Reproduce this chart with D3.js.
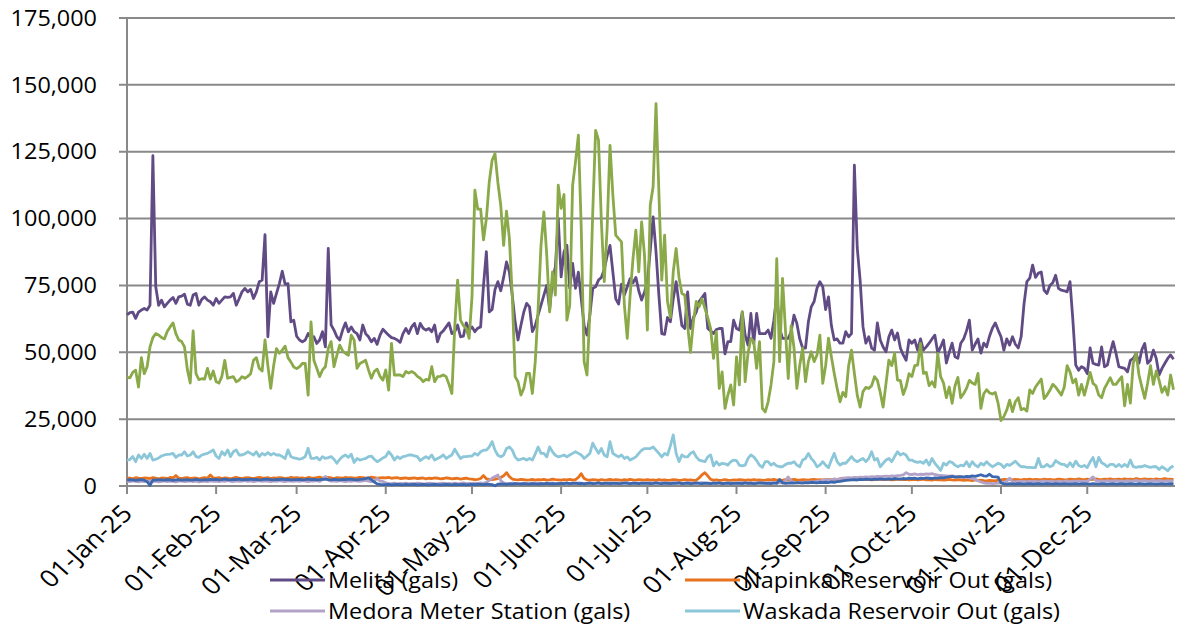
<!DOCTYPE html>
<html><head><meta charset="utf-8">
<script src="https://cdn.jsdelivr.net/npm/d3@7"></script>
<style>
html,body{margin:0;padding:0;background:#fff;}
svg{display:block;font-family:"Open Sans",Lato,sans-serif;}
</style></head><body>
<svg id="chart" width="1177" height="631"></svg>
<script>
// ---- DATA (thousands of gallons per day, 2025) ----
const yTicks = [0, 25, 50, 75, 100, 125, 150, 175];
const seriesNames = ["Melita (gals)", "Napinka Reservoir Out (gals)", "Medora Meter Station (gals)", "Waskada Reservoir Out (gals)", "Series 5", "Series 6"];

const melita = [
[64,64.8,65,62.7,65,65.8,66.4,65.8,67.6,123.5,74.5,67.6,69.5,67,68.3,69.5,70.5,68.3,70.7,71,71.7,68,67.6,71.4,72,67.6,69.8,70.7,69.5,68.9,67.6],
[70.1,68.3,69.5,70.7,70.5,70.7,72,67.6,70,72.6,73.9,72.6,73.5,70.1,72.6,76.4,77,94,55.8,72.6,68.3,72,75.7,80.3,75.5,75.7,61.4,62],
[56,54.6,53.9,54.6,57,55.2,55.8,53.3,54.6,57.7,52,88.8,60.2,58.3,55.8,54.6,58.3,61,57.7,59.5,57.7,57,54.6,60.2,57,55.8,53.9,55.2,53,56.4,58.6],
[57.5,56.4,55.5,55.2,54.6,53.7,57,58.9,57,59.5,60.8,57,60.8,59,58.3,58.9,57.7,60.2,53.9,57,58,59.5,61,57,57.7,60.2,55.8,56,61,58.3],
[59.5,57.7,59,59.5,75,87.6,65.1,66,73.5,76.4,73,78,83.8,80,71.4,61.4,54.6,60,65,68.3,67,57.7,60,64,67.6,71.4,75,66,77,82,100],
[78.2,87.6,90,74,83.2,73.9,80,70,60,56.4,64,73.9,74.5,77,78,81,86,90,80,70,68,75.5,71.4,74.5,77.5,76,78,73,69.5,72.6],
[76.4,88,100.6,87.6,71.4,57,56.7,63,61.4,70,76.4,68,60,58.9,72.6,58.9,63,65,69,70.5,72,58.9,58,57,58.5,58.9,58.9,49.4,54,54,62],
[58.9,58.3,65.1,56.4,52.7,64.5,53.3,64.5,57,57,57,58.3,55.2,62,71.4,58.9,55.2,55.2,55.2,57.7,63.9,60.8,55,51.6,51.6,61.4,67,69,74,76.4,74.5],
[66,70.7,60,54.6,55,53.4,53.4,57.7,55.8,57,120,89,77,59.5,53.4,55.8,51.6,50.8,61,54.6,52,50.2,55.8,58.3,54.6,57.2,51.6,49,47,54.6],
[53.4,54.6,50.8,55,50.8,52,53.4,55,56.4,49.7,52,54.6,46,50,53.4,48.3,47.8,53.4,55,58,62,50.8,53,55,49.7,53.4,52,56,59,61,58.3],
[55.8,50.8,55,52.7,55.8,53,51.6,55.8,68,76.4,77.7,82.6,78,79.6,80,73.2,72,75,76,78.8,73.9,73.2,73,72.6,76.4,62,45.2,43.3,44.6,44],
[42,51.6,45.9,45.5,45.2,52,44.6,45.2,50,54,49.6,44.6,44.3,44,42.7,47,47.7,49.6,45.9,51,53.3,45.9,47,50.8,47.7,41.5,44,45.9,47.7,49,47.4]
].flat();

const napinka = [
[2.8,3.0,2.7,3.1,2.9,2.8,3.0,2.9,2.8,3.1,2.9,2.7,3.0,2.9,2.8,3.2,3.0,3.9,2.9,2.8,3.0,3.1,2.8,2.9,3.0,2.7,2.9,3.1,2.9,4.1,3.0],
[2.9,3.1,2.8,3.0,2.9,2.7,3.0,3.2,2.9,2.8,3.0,3.1,2.9,2.8,3.0,3.2,3.0,2.9,3.1,2.8,3.0,2.9,3.1,3.0,2.8,2.9,3.2,3.0],
[3.1,2.9,3.0,2.8,3.2,3.0,2.9,3.1,3.3,3.0,2.9,3.2,3.0,2.8,3.1,3.0,2.9,3.2,3.0,3.1,2.9,3.0,3.2,3.1,2.9,3.0,3.3,3.1,2.9,3.0,3.1],
[3.0,3.2,2.9,3.0,3.1,2.8,2.9,3.0,2.8,2.9,3.0,2.8,2.9,3.0,2.7,2.9,2.8,3.0,2.9,2.7,2.8,3.0,2.9,2.7,2.8,2.9,2.6,2.8,2.9,2.7],
[2.6,2.4,2.5,2.8,3.9,2.7,2.5,2.4,2.6,2.8,3.2,3.8,5.0,3.5,2.6,2.4,2.3,2.5,2.4,2.2,2.3,2.5,2.2,2.4,2.3,2.5,2.2,2.3,2.6,2.4,2.3],
[2.2,2.4,2.3,2.5,2.2,2.4,3.2,4.6,2.8,2.3,2.2,2.4,2.3,2.1,2.4,2.2,2.3,2.5,2.2,2.4,2.3,2.1,2.4,2.2,2.5,2.3,2.2,2.4,2.3,2.2],
[2.4,2.2,2.3,2.1,2.4,2.2,2.3,2.1,2.2,2.4,2.3,2.1,2.2,2.4,2.2,2.3,2.1,2.2,3.0,4.2,5.0,3.8,2.5,2.2,2.3,2.1,2.2,2.4,2.2,2.1,2.3],
[2.2,2.4,2.3,2.1,2.3,2.2,2.4,2.2,2.3,2.1,2.2,2.4,2.3,2.5,2.2,2.3,2.1,2.4,2.2,2.3,2.5,2.3,2.2,2.4,2.3,2.2,2.4,2.5,2.3,2.4,2.3],
[2.4,2.5,2.3,2.6,2.4,2.5,2.3,2.4,2.6,2.5,2.4,2.3,2.5,2.6,2.4,2.5,2.3,2.4,2.6,2.5,2.4,2.6,2.5,2.3,2.4,2.5,2.6,2.4,2.5,2.3],
[2.4,2.5,2.3,2.4,2.6,2.3,2.4,2.2,2.5,2.3,2.4,2.2,2.3,2.5,2.3,2.2,2.4,2.3,2.1,2.3,2.2,2.0,2.3,2.1,2.2,2.0,1.9,2.1,2.0,1.9,2.2],
[2.3,2.5,2.4,2.6,2.3,2.5,2.4,2.2,2.5,2.4,2.6,2.3,2.5,2.4,2.3,2.6,2.4,2.5,2.3,2.4,2.6,2.5,2.3,2.4,2.6,2.5,2.4,2.7,2.5,2.4],
[2.6,2.4,2.5,2.7,2.5,2.4,2.6,2.5,2.7,2.4,2.5,2.6,2.4,2.7,2.5,2.6,2.4,2.8,2.6,2.5,2.7,2.5,2.6,2.4,2.7,2.5,2.6,2.8,2.5,2.6,2.4]
].flat();

const medora = [
[1.8,1.6,1.9,1.7,1.5,1.8,1.6,1.9,1.7,1.6,1.8,1.5,1.7,1.9,1.6,1.8,1.7,1.5,1.8,1.9,1.6,1.7,1.9,1.6,1.8,1.5,1.7,1.8,1.6,1.9,1.7],
[1.8,1.6,1.9,1.7,2.0,1.8,1.6,1.9,1.7,1.8,2.0,1.7,1.9,1.6,1.8,2.0,1.7,1.9,1.8,1.6,1.9,1.7,2.0,1.8,1.6,1.9,1.8,1.7],
[1.9,1.7,2.0,1.8,1.6,1.9,1.8,2.0,1.7,2.4,3.6,2.2,1.8,1.9,1.7,2.0,1.8,1.6,1.9,1.7,2.0,1.8,1.7,1.9,2.1,1.8,1.6,1.9,2.8,1.8,1.7],
[1.2,1.0,0.9,1.1,0.8,1.0,0.9,1.1,0.8,1.0,0.9,1.1,1.0,0.8,0.9,1.1,1.0,0.9,0.8,1.0,1.1,0.9,1.0,0.8,1.1,0.9,1.0,1.2,0.9,1.0],
[1.0,1.1,0.9,1.2,1.0,1.4,2.0,3.0,3.5,4.1,2.0,1.2,1.0,0.9,1.1,1.0,0.8,1.0,1.1,0.9,1.0,1.2,0.9,1.1,1.0,0.9,1.1,1.0,1.2,0.9,1.0],
[1.1,1.0,1.2,0.9,1.1,1.0,1.2,1.1,0.9,1.0,1.2,1.1,1.0,1.2,0.9,1.1,1.0,1.3,1.1,1.0,1.2,1.0,1.1,1.3,1.0,1.1,1.2,1.0,1.1,1.2],
[1.1,1.3,1.0,1.2,1.1,1.3,1.2,1.0,1.2,1.1,1.3,1.2,1.0,1.1,1.3,1.2,1.1,1.0,1.2,1.3,1.1,1.2,1.0,1.3,1.1,1.2,1.0,1.1,1.3,1.2,1.1],
[1.2,1.1,1.3,1.2,1.0,1.2,1.1,1.3,1.2,1.1,1.2,1.0,1.3,1.1,1.2,1.3,1.2,2.0,3.4,1.8,1.3,1.2,1.4,1.3,1.5,1.4,1.6,1.5,1.7,1.9,2.2],
[2.2,2.4,2.3,2.6,2.5,2.8,2.9,3.0,3.1,3.0,3.2,3.1,3.3,3.2,3.4,3.3,3.5,3.4,3.6,3.5,3.6,3.7,3.6,3.8,3.7,3.9,4.0,4.2,5.0,4.4],
[4.3,4.5,4.2,4.4,4.3,4.5,4.4,4.6,4.3,4.1,4.0,3.9,3.8,3.7,3.8,3.6,3.5,3.4,3.3,3.2,3.0,2.8,2.5,2.0,1.5,1.2,1.0,1.1,0.9,1.0,1.1],
[1.2,1.4,1.8,2.9,1.6,1.5,1.7,1.6,1.8,1.5,1.7,1.6,1.8,1.5,1.7,1.9,1.6,1.8,1.7,1.5,1.8,1.6,1.7,1.9,1.6,1.8,1.7,1.9,1.6,1.8],
[1.7,2.5,3.4,2.0,1.8,1.9,1.7,2.0,1.8,1.9,2.0,1.8,1.9,1.7,2.0,1.8,1.9,2.1,1.8,1.9,2.0,1.8,1.9,2.1,1.8,2.0,1.9,1.8,2.0,1.9,1.8]
].flat();

const waskada = [
[9.7,9.9,11,9.1,11.6,10.3,11.9,10.3,12.2,9.7,10,10.5,11.2,11.6,11.8,11.9,12.2,10.7,11.6,11.6,12.8,11.2,11.6,12.8,11,10.7,11.6,11.9,12.2,12.8,13.5],
[11.2,10.3,12.8,11.6,13.5,11,12.8,13.5,11.6,11.6,12,12.8,12.2,11.6,12.8,11,12.2,11.6,12.5,11.6,12.2,11.6,11.6,11,10.3,13.5,11,10.5],
[10.3,10,10.3,11,14.1,10.3,10.3,10.7,9.7,11,10.3,10.6,11,10,8.5,10,11,11.6,10.7,11.9,8.8,10.3,9.7,10,10.3,11,11.2,10,9.1,9.7,10.5],
[11,12.8,11.6,9.7,11,10.3,11,11.2,11.6,11.6,11.3,11,9.5,10.3,11,10.3,11.6,9.7,10.3,10.8,11.6,10.3,11,11.6,13.8,12,10.3,11,11,11.2],
[11.2,12.2,11.6,12.8,13.4,13.4,14.6,16.6,13.4,11.5,10.9,11.6,14,14.6,13.4,10.9,9.7,10,10.3,9.7,10.3,9.7,12,14.6,12.2,12.2,10.9,14.6,12.8,11.5,10.9],
[11.2,11.6,10.9,11.6,12.2,12.8,12.2,11.6,10.3,11.2,12.2,16,14,12.2,14,11.6,10.9,16.6,12.2,11.5,10.9,11.6,10.3,10.9,9.7,10.3,10.9,12.2,13.4,14],
[14,14,14.6,13.4,12.2,10.9,12.2,11.6,15,19.1,12.2,9.1,11.6,10.9,10.9,12.2,12.8,10.9,9.7,9.4,9.1,10.9,11.6,7.5,9.1,7.8,8.5,8.3,7.8,9.1,9.7],
[9.5,7.8,7.5,7.8,10.3,11.6,10.9,9.5,7.8,7,9.1,9.1,7.8,8.5,7.5,7.2,7.2,8,8.5,8.5,9.1,7.8,7.2,9.7,10.3,12.2,10.3,9.1,7.2,7.8,9.1],
[7.8,6.8,9.7,12.2,9.1,7.8,8.5,8.5,9.7,11,9.7,9.1,9.7,10.3,9.1,10.3,12.8,9.7,10.3,7.2,8.5,9.7,10.3,9.1,11,12.8,11.6,12.2,11.5,9.7],
[9.7,9.1,8.8,9.1,8.5,9.7,7.8,10.3,8.5,7.2,5.8,8.5,7.8,9.1,8.8,7.8,7.2,7.8,7.5,9.1,7.2,9.1,7.8,7.2,8.5,7.8,9.1,8,7.2,7.8,8.5],
[8.1,6.9,8.1,7.7,8.5,9.3,8.1,7.2,7.2,7,7,6.9,6.9,10.3,7.2,7.2,8.1,7.2,7.7,9.5,8.7,8.1,8.1,7.2,8.7,7.2,9.3,7.7,7.2,7.7],
[6.9,9,10.7,7.2,10.7,8.7,8.1,7.2,8.1,8.1,7.2,8.1,7.2,8.1,7.2,9.7,7.2,7,7.2,7.2,7.7,7.2,7,7.2,7.2,6.2,7.2,6.5,5.7,6.9,7.5]
].flat();

const series5 = [
[40.6,40.4,42.5,43.3,37,48,42,44.6,52,55.5,57,56.5,55.5,55,57.8,59.5,61,57,54.6,54,52,43.5,38.5,58,42,39.8,40.1,40,44,40,43],
[39,38.5,41,47,40.3,40.6,40.9,39,39.6,40.9,40.3,41,42,47,48,44,43,54.6,45,36.5,45,51.4,49.6,50.8,52.3,48,46.4,44.5],
[43.9,44.6,45.8,45.8,34,61.4,47,44,40.9,43.4,44.6,51.4,54,44.6,48.9,52.7,50.5,49.6,48.9,56.4,54.6,44,45.8,46.4,47,43.4,40.3,42.8,43.7,41,39.6],
[43.4,35.9,53.3,41.5,41.5,41.5,40.9,42.8,42.2,42.8,42.2,41,40.3,39,39.9,39.6,44.6,39,40.9,41,41.5,40.9,38,34.6,59.5,77,62,60,58.9,55.2],
[70.7,110.6,103.5,103.5,92,100,113.7,121.8,124.3,113.5,105,90,102.8,92.6,71.4,40.9,39,34,36.5,42.1,42.1,34.6,46.5,66.4,90,102.5,86.3,65.1,80.1,71.4,112.5],
[103.8,109,62,67.6,112.5,121.2,131.2,96.3,46.5,41.5,65.1,102.5,133,129.3,98.8,76.4,96.3,127.4,108.7,93.8,92.5,91.3,67.6,55.2,71.4,85,95.7,80.1,98.8,86.3],
[58.3,105,112,143,110,77,93.8,69,63,80.1,88.8,78,72,71.4,60,50,61.4,69,67,70,66.4,63,58.9,47.7,57.7,36.5,42.7,29,34,37.8,30.3],
[48.3,37.8,65.1,39,49.6,55.2,54,44,54,29,27.7,31.5,37.8,46.5,85,46.5,77.6,58.9,40.2,60,51.6,36.5,45.2,51.6,39,46.5,50.2,46.5,49,56.4,38.4],
[45,55.3,48.3,42.1,36.5,31.5,35,33.4,45,50.8,42.1,34,29.5,35.3,36.9,36.5,37.5,40.9,39.5,35,29.5,38.4,47.1,45,49.6,39.6,39.4,34.2,37.1,42],
[40.9,45,45.2,53.3,42.1,42.5,37.5,39,37,49.6,40.9,38.5,33,37,30.9,37.5,40.6,33,34.5,36.5,39.5,38.5,38,42.1,29,34.5,36,34.8,34.4,35,30.9],
[24.5,26,28.4,32.1,27.8,31.5,33,28.5,29,28,35.9,34.6,37,38.5,40,32.7,34,35.8,38,37,35.5,34,37,45,42.7,38.6,40,34,38,34],
[38,42.5,38.4,37.5,34,33,36.5,38.5,40.5,38,38,39.5,40.9,30,38,31,45.9,49.6,41.5,37,32.8,38.4,45,38,43,39.5,35,37.1,34,41.5,36]
].flat();

const series6 = [
[2.2,2.4,2.3,2.1,2.3,2.4,2.2,1.6,0.2,2.3,2.2,2.4,2.3,2.2,2.4,2.3,2.1,2.3,2.4,2.2,2.3,2.4,2.2,2.3,2.5,2.3,2.2,2.4,2.3,2.5,2.4],
[2.5,2.3,2.4,2.6,2.4,2.3,2.5,2.4,2.6,2.3,2.5,2.4,2.6,2.4,2.5,2.3,2.4,2.6,2.5,2.4,2.3,2.5,2.4,2.6,2.4,2.5,2.3,2.4],
[2.4,2.5,2.3,2.4,2.6,2.4,2.5,2.3,2.4,2.5,2.6,2.4,2.3,2.5,2.4,2.3,2.5,2.4,2.6,2.5,2.4,2.3,2.5,2.6,2.8,3.0,2.4,1.5,0.8,0.6,0.5],
[0.5,0.6,0.4,0.5,0.6,0.5,0.4,0.6,0.5,0.5,0.6,0.4,0.5,0.6,0.5,0.4,0.5,0.6,0.5,0.4,0.5,0.6,0.5,0.4,0.6,0.5,0.5,0.6,0.4,0.5],
[0.6,0.5,0.7,0.6,0.5,0.7,0.6,0.5,0.1,0.7,0.8,0.7,0.6,0.8,0.7,0.9,0.8,0.7,0.9,0.8,0.7,0.9,0.8,0.7,0.9,0.8,1.0,0.8,0.9,0.8,0.9],
[1.0,0.9,1.1,0.9,1.0,1.1,0.9,1.0,0.8,1.0,1.1,0.9,1.0,1.2,0.9,1.0,1.1,0.9,1.0,1.1,0.9,1.0,1.2,1.0,0.9,1.1,1.0,0.9,1.1,1.0],
[1.1,0.9,1.0,1.2,1.0,0.9,1.1,1.0,0.9,1.1,1.0,1.2,0.9,1.0,1.1,0.9,1.0,1.2,1.0,0.9,1.1,1.0,0.9,1.1,1.0,1.2,0.9,1.0,1.1,0.9,1.0],
[1.0,1.1,0.9,1.2,1.0,1.1,0.9,1.0,1.2,1.1,1.0,1.1,0.9,1.2,1.0,2.4,1.2,1.0,1.1,1.2,1.1,1.3,1.2,1.1,1.3,1.2,1.4,1.3,1.2,1.4,1.3],
[1.4,1.3,1.5,1.4,1.6,1.7,1.9,2.1,2.2,2.3,2.4,2.3,2.5,2.4,2.6,2.5,2.4,2.6,2.5,2.7,2.6,2.5,2.7,2.6,2.8,2.7,2.6,2.8,2.7,2.9],
[2.8,2.9,2.7,2.9,2.8,3.0,2.9,2.8,3.0,2.9,3.1,3.0,3.2,3.4,3.6,3.3,3.4,3.5,3.3,3.6,3.5,3.8,3.6,3.9,4.2,3.8,3.7,4.4,3.5,3.4,3.3],
[1.2,0.8,0.7,0.9,0.8,0.7,0.9,0.8,0.7,0.8,0.9,0.7,0.8,0.9,0.7,0.8,0.9,0.8,0.7,0.9,0.8,0.7,0.9,0.8,0.7,0.8,0.9,0.7,0.8,0.9],
[0.8,0.7,0.9,0.8,0.7,0.9,0.8,0.7,0.8,0.9,0.7,0.8,0.9,0.7,0.8,0.9,0.8,0.7,0.9,0.8,0.7,0.8,0.9,0.8,0.7,0.8,0.9,0.7,0.8,0.9,0.8]
].flat();

// ---- CHART ----
const days = d3.timeDay.range(new Date(2025, 0, 1), new Date(2026, 0, 1));
const months = d3.timeMonth.range(new Date(2025, 0, 1), new Date(2026, 0, 1));

const svg = d3.select("#chart");
const x = d3.scaleTime().domain([days[0], days[days.length - 1]]).range([127, 1173.5]);
const y = d3.scaleLinear().domain([0, 175]).range([486, 18]);
const grid = "#898989";
const stretch = 1.09;            // the reference's text is slightly wide
const fmtY = d => d3.format(",")(d * 1000);
const fmtX = d3.timeFormat("%d-%b-%y");

// gridlines + y labels
const gy = svg.append("g");
gy.selectAll("line").data(yTicks).join("line")
  .attr("x1", 119).attr("x2", 1175)
  .attr("y1", d => y(d)).attr("y2", d => y(d))
  .attr("stroke", grid).attr("stroke-width", 2);
gy.selectAll("text").data(yTicks).join("text")
  .attr("transform", d => `translate(97,${y(d)}) scale(${stretch},1)`)
  .attr("dy", "0.36em")
  .attr("text-anchor", "end").attr("font-size", 21.5).attr("fill", "#000")
  .text(fmtY);

// y axis line
svg.append("line").attr("x1", 127).attr("x2", 127).attr("y1", y(175)).attr("y2", y(0))
  .attr("stroke", grid).attr("stroke-width", 2);

// x ticks + labels
const gx = svg.append("g");
gx.selectAll("line").data(months).join("line")
  .attr("x1", d => x(d)).attr("x2", d => x(d))
  .attr("y1", y(0)).attr("y2", y(0) + 8)
  .attr("stroke", grid).attr("stroke-width", 2);
gx.selectAll("text").data(months).join("text")
  .attr("transform", d => `translate(${x(d)},${y(0) + 23}) scale(1.12,1) rotate(-45)`)
  .attr("text-anchor", "end").attr("dy", "0.36em")
  .attr("font-size", 24).attr("fill", "#000")
  .text(fmtX);

// lines
const colors = ["#614B85", "#E8731E", "#B3A2C7", "#8CC6D9", "#8AA948", "#3A67AE"];
const data = [melita, napinka, medora, waskada, series5, series6];
const line = d3.line().x((d, i) => x(days[i])).y(d => y(d));
svg.append("g").selectAll("path").data(data).join("path")
  .attr("d", d => line(d.slice(0, days.length)))
  .attr("fill", "none")
  .attr("stroke", (d, i) => colors[i])
  .attr("stroke-width", 2.8)
  .attr("stroke-linejoin", "round");

// legend (only four entries visible)
const legendPos = [[270, 580], [685, 580], [270, 611], [685, 611]];
const lg = svg.append("g").selectAll("g").data(legendPos).join("g")
  .attr("transform", d => `translate(${d[0]},${d[1]})`);
lg.append("line").attr("x1", 0).attr("x2", 55).attr("y1", 0).attr("y2", 0)
  .attr("stroke", (d, i) => colors[i]).attr("stroke-width", 2.8);
lg.append("text").attr("transform", `translate(58,0) scale(${stretch},1)`)
  .attr("dy", "0.36em").attr("font-size", 21.5).attr("fill", "#000")
  .text((d, i) => seriesNames[i]);
</script>
</body></html>
